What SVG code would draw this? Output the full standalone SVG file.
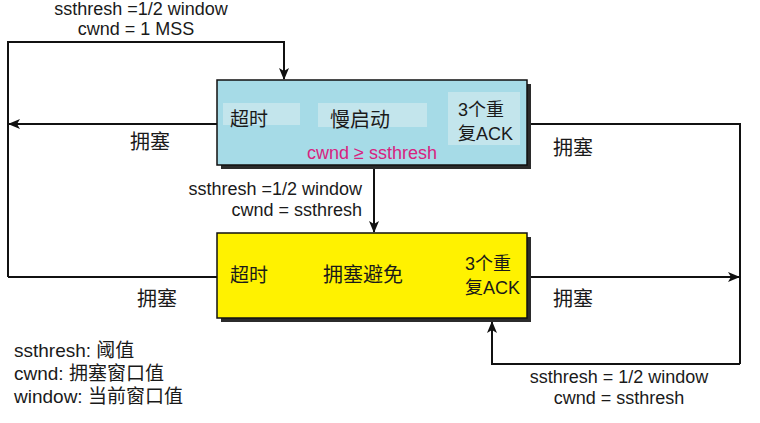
<svg xmlns="http://www.w3.org/2000/svg" width="760" height="423" viewBox="0 0 760 423">
<style>
.t{font-family:"Liberation Sans","Noto Sans CJK SC",sans-serif;fill:#1a1a1a}
.cn{font-family:"Noto Sans CJK SC","Liberation Sans",sans-serif;fill:#1a1a1a;font-size:20px}
.lbl{font-size:18px}
.lg{font-family:"Liberation Sans","Noto Sans CJK SC",sans-serif;fill:#1a1a1a;font-size:19px}
.ln{fill:none;stroke:#111;stroke-width:2}
.shadow{fill:#2b2b2b}
</style>
<defs>
<marker id="ah" viewBox="0 0 12 10" refX="11" refY="5" markerWidth="12" markerHeight="10" markerUnits="userSpaceOnUse" orient="auto">
<path d="M0,0 L12,5 L0,10 L3,5 Z" fill="#111"/>
</marker>
</defs>
<rect width="760" height="423" fill="#fff"/>

<g id="connectors">
<path class="ln" d="M8,277 V42 H284 V79" marker-end="url(#ah)"/>
<path class="ln" d="M217,124 H9" marker-end="url(#ah)"/>
<path class="ln" d="M217,277 H8"/>
<path class="ln" d="M374,168 V232" marker-end="url(#ah)"/>
<path class="ln" d="M530,124 H740 V364"/>
<path class="ln" d="M530,277 H739" marker-end="url(#ah)"/>
<path class="ln" d="M740,364 H492 V322" marker-end="url(#ah)"/>
</g>

<g id="slow-start">
<rect class="shadow" x="221" y="84" width="310" height="85"/>
<rect x="217" y="80" width="310" height="85" fill="#a6dbe7" stroke="#111" stroke-width="1.5"/>
<rect x="223" y="103" width="77" height="22" fill="#c3e5ec"/>
<rect x="318" y="103" width="109" height="24" fill="#c3e5ec"/>
<rect x="448" y="92" width="72" height="53" fill="#c3e5ec"/>
<text class="cn" x="230" y="126" style="font-size:19px">超时</text>
<text class="cn" x="330" y="127" style="font-size:20px">慢启动</text>
<text class="t" x="458" y="116" style="font-size:18px">3个重</text>
<text class="t" x="458" y="140" style="font-size:18px">复ACK</text>
<text class="t" x="372" y="159" text-anchor="middle" style="font-size:18px;fill:#d8237f">cwnd ≥ ssthresh</text>
</g>

<g id="congestion-avoidance">
<rect class="shadow" x="221" y="237" width="310" height="85"/>
<rect x="217" y="233" width="310" height="85" fill="#fff200" stroke="#111" stroke-width="1.5"/>
<text class="cn" x="230" y="282" style="font-size:19px">超时</text>
<text class="cn" x="323" y="282" style="font-size:20px">拥塞避免</text>
<text class="t" x="465" y="270" style="font-size:18px">3个重</text>
<text class="t" x="465" y="294" style="font-size:18px">复ACK</text>
</g>

<g id="labels">
<text class="t lbl" x="141" y="15" text-anchor="middle">ssthresh =1/2 window</text>
<text class="t lbl" x="136" y="35" text-anchor="middle">cwnd = 1 MSS</text>
<text class="cn" x="130" y="149">拥塞</text>
<text class="cn" x="137" y="306">拥塞</text>
<text class="cn" x="553" y="155">拥塞</text>
<text class="cn" x="553" y="306">拥塞</text>
<text class="t lbl" x="362" y="195" text-anchor="end">ssthresh =1/2 window</text>
<text class="t lbl" x="362" y="216" text-anchor="end">cwnd = ssthresh</text>
<text class="t lbl" x="619" y="383" text-anchor="middle">ssthresh = 1/2 window</text>
<text class="t lbl" x="619" y="404" text-anchor="middle">cwnd = ssthresh</text>
<text class="lg" x="14" y="357">ssthresh: 阈值</text>
<text class="lg" x="14" y="380">cwnd: 拥塞窗口值</text>
<text class="lg" x="14" y="403">window: 当前窗口值</text>
</g>
</svg>
